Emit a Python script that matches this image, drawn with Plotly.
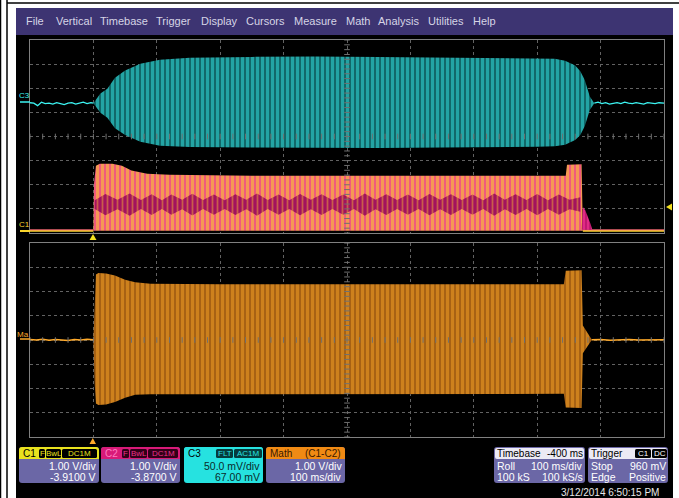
import plotly.graph_objects as go

W, H = 679, 498

# ---------------- acquisition settings ----------------
T_RANGE = [-0.1, 0.9]            # s, 100 ms/div, trigger at -400 ms from centre
C1_VDIV, C1_OFFSET = 1.00, -3.91
C2_VDIV, C2_OFFSET = 1.00, -3.87
C3_VDIV, C3_OFFSET = 0.050, 0.067
MATH_VDIV, MATH_OFFSET = 1.00, 0.0

# ---------------- C3 (AC coupled) ----------------
c3_pre_t = [-0.100, -0.094, -0.088, -0.082, -0.076, -0.070, -0.064, -0.058, -0.052,
            -0.046, -0.040, -0.034, -0.028, -0.022, -0.016, -0.010, -0.004, 0.000]
c3_pre_v = [0.003, 0.002, -0.003, 0.004, 0.001, 0.002, 0.000, 0.003, 0.001,
            -0.001, 0.002, 0.003, 0.000, 0.002, 0.004, 0.001, 0.003, 0.002]
c3_post_t = [0.790, 0.796, 0.802, 0.808, 0.814, 0.820, 0.826, 0.832, 0.838, 0.844,
             0.850, 0.856, 0.862, 0.868, 0.874, 0.880, 0.886, 0.892, 0.900]
c3_post_v = [0.002, 0.004, 0.001, 0.003, 0.000, 0.002, 0.003, 0.001, 0.004, 0.002,
             0.001, 0.003, 0.002, 0.000, 0.003, 0.002, 0.001, 0.003, 0.002]
c3_env_t = [0.000, 0.005, 0.011, 0.022, 0.034, 0.050, 0.074, 0.105, 0.152, 0.250,
            0.350, 0.450, 0.550, 0.650, 0.700, 0.728, 0.744, 0.760, 0.768, 0.775,
            0.783, 0.790]
c3_env_hi = [0.002, 0.010, 0.022, 0.032, 0.055, 0.070, 0.084, 0.092, 0.096, 0.098,
             0.099, 0.098, 0.097, 0.096, 0.095, 0.094, 0.090, 0.080, 0.068, 0.050,
             0.016, 0.002]
c3_env_lo = [0.002, -0.006, -0.018, -0.028, -0.050, -0.064, -0.078, -0.086, -0.089, -0.090,
             -0.091, -0.091, -0.090, -0.089, -0.088, -0.087, -0.084, -0.074, -0.064, -0.046,
             -0.012, 0.002]

# ---------------- C1 / C2 ----------------
c1_base_t = [-0.100, 0.000, 0.772, 0.900]
c1_base_v = [0.00, 0.00, 0.00, 0.00]
c1_env_t = [0.000, 0.001, 0.004, 0.010, 0.030, 0.045, 0.060, 0.085, 0.120, 0.250,
            0.400, 0.550, 0.700, 0.745, 0.747, 0.770, 0.772]
c1_env_hi = [0.00, 1.95, 2.70, 2.78, 2.78, 2.70, 2.50, 2.37, 2.32, 2.28,
             2.28, 2.28, 2.28, 2.28, 2.74, 2.76, 0.00]
c2_tail_t = [0.770, 0.772, 0.776, 0.780, 0.784, 0.787]
c2_tail_v = [0.00, 0.95, 0.80, 0.55, 0.25, 0.00]
c2_band_t = [0.002, 0.019, 0.038, 0.057, 0.075, 0.092, 0.108, 0.123, 0.140, 0.156,
             0.173, 0.190, 0.207, 0.224, 0.241, 0.258, 0.275, 0.292, 0.309, 0.326,
             0.343, 0.360, 0.377, 0.394, 0.411, 0.428, 0.445, 0.462, 0.479, 0.496,
             0.513, 0.530, 0.547, 0.564, 0.581, 0.598, 0.615, 0.632, 0.649, 0.666,
             0.683, 0.700, 0.717, 0.734, 0.751, 0.768]
c2_band_mid = 1.05
c2_band_hw = [0.18, 0.44, 0.20, 0.46, 0.19, 0.43, 0.18, 0.42, 0.20, 0.45,
              0.19, 0.42, 0.18, 0.43, 0.20, 0.46, 0.19, 0.42, 0.18, 0.44,
              0.20, 0.43, 0.19, 0.42, 0.18, 0.46, 0.20, 0.43, 0.19, 0.42,
              0.18, 0.44, 0.20, 0.43, 0.19, 0.42, 0.18, 0.46, 0.20, 0.43,
              0.19, 0.44, 0.18, 0.42, 0.20, 0.30]

# ---------------- Math (C1-C2) ----------------
m_pre_t = [-0.100, -0.090, -0.080, -0.070, -0.060, -0.050, -0.040, -0.030, -0.020, -0.010, 0.000]
m_pre_v = [0.02, 0.00, 0.03, -0.01, 0.02, 0.01, -0.02, 0.02, 0.00, 0.03, 0.01]
m_post_t = [0.786, 0.800, 0.815, 0.830, 0.845, 0.860, 0.875, 0.890, 0.900]
m_post_v = [0.01, 0.02, -0.01, 0.01, 0.02, 0.00, 0.01, 0.02, 0.01]
m_env_t = [0.000, 0.002, 0.004, 0.008, 0.020, 0.034, 0.050, 0.066, 0.090, 0.200,
           0.350, 0.500, 0.650, 0.742, 0.745, 0.770, 0.772, 0.776, 0.781, 0.786]
m_env_hi = [0.00, 1.80, 2.70, 2.76, 2.74, 2.66, 2.48, 2.38, 2.32, 2.30,
            2.30, 2.30, 2.30, 2.30, 2.86, 2.88, 0.60, 0.45, 0.25, 0.02]
m_env_lo = [0.00, -1.80, -2.62, -2.68, -2.66, -2.56, -2.38, -2.26, -2.24, -2.22,
            -2.22, -2.22, -2.22, -2.22, -2.78, -2.80, -0.55, -0.40, -0.20, 0.00]

# ---------------- readouts ----------------
menu_items = ["File", "Vertical", "Timebase", "Trigger", "Display", "Cursors",
              "Measure", "Math", "Analysis", "Utilities", "Help"]
c1_info = ["C1", ["F", "BwL", "DC1M"], "1.00 V/div", "-3.9100 V"]
c2_info = ["C2", ["F", "BwL", "DC1M"], "1.00 V/div", "-3.8700 V"]
c3_info = ["C3", ["FLT", "AC1M"], "50.0 mV/div", "67.00 mV"]
math_info = ["Math", "(C1-C2)", "1.00 V/div", "100 ms/div"]
tb_info = [["Timebase", "-400 ms"], ["Roll", "100 ms/div"], ["100 kS", "100 kS/s"]]
trig_info = [["Trigger", ["C1", "DC"]], ["Stop", "960 mV"], ["Edge", "Positive"]]
timestamp = "3/12/2014 6:50:15 PM"

# ======================================================
FONT = "Liberation Sans, Arial, sans-serif"
C_CYAN, C_YEL, C_PINK, C_MAG, C_ORG = "#3cf4f2", "#fad62c", "#f05a7c", "#a3125e", "#ffaa2a"
BOX = "#6b67a6"


def X(px):
    return px / W


def Y(py):
    return 1 - py / H


def P(x, y):
    return f"{X(x):.5f},{Y(y):.5f}"


def rrect(x0, y0, x1, y1, r, color, line=None):
    path = (f"M {P(x0 + r, y0)} L {P(x1 - r, y0)} Q {P(x1, y0)} {P(x1, y0 + r)} "
            f"L {P(x1, y1 - r)} Q {P(x1, y1)} {P(x1 - r, y1)} L {P(x0 + r, y1)} "
            f"Q {P(x0, y1)} {P(x0, y1 - r)} L {P(x0, y0 + r)} Q {P(x0, y0)} {P(x0 + r, y0)} Z")
    return dict(type="path", xref="paper", yref="paper", path=path, fillcolor=color,
                line=dict(width=0 if line is None else 1, color=line or color), layer="above")


def rect(x0, y0, x1, y1, color, layer="above"):
    return dict(type="rect", xref="paper", yref="paper", x0=X(x0), x1=X(x1), y0=Y(y1), y1=Y(y0),
                fillcolor=color, line=dict(width=0), layer=layer)


def seg(x0, y0, x1, y1, color, width=1, layer="above"):
    return dict(type="line", xref="paper", yref="paper", x0=X(x0), x1=X(x1), y0=Y(y0), y1=Y(y1),
                line=dict(color=color, width=width), layer=layer)


def tri(pts, color):
    path = "M " + " L ".join(P(x, y) for x, y in pts) + " Z"
    return dict(type="path", xref="paper", yref="paper", path=path, fillcolor=color,
                line=dict(width=0), layer="above")


annotations = []


def txt(x, y, s, color, size=10, anchor="left"):
    annotations.append(dict(x=X(x), y=Y(y), xref="paper", yref="paper", text=s, showarrow=False,
                            xanchor=anchor, yanchor="middle", font=dict(family=FONT, size=size, color=color),
                            borderpad=0))


def to_div(vals, vdiv, offset):
    return [(v + offset) / vdiv for v in vals]


fig = go.Figure()


def band(t, hi, lo, fg, bg, solidity=0.5, xa="x", ya="y", size=4):
    fig.add_trace(go.Scatter(
        x=list(t) + list(t)[::-1], y=list(hi) + list(lo)[::-1], xaxis=xa, yaxis=ya,
        mode="lines", line=dict(width=0, color=fg), fill="toself", fillcolor=bg,
        fillpattern=dict(shape="|", fgcolor=fg, bgcolor=bg, size=size, solidity=solidity),
        hoverinfo="skip", showlegend=False))


def wire(t, v, color, width=1, xa="x", ya="y"):
    fig.add_trace(go.Scatter(x=t, y=v, xaxis=xa, yaxis=ya, mode="lines",
                             line=dict(color=color, width=width), hoverinfo="skip", showlegend=False))


# ---- upper grid: C3 ----
wire(c3_pre_t, to_div(c3_pre_v, C3_VDIV, C3_OFFSET), C_CYAN, 1.3)
wire(c3_post_t, to_div(c3_post_v, C3_VDIV, C3_OFFSET), C_CYAN, 1.3)
band(c3_env_t, to_div(c3_env_hi, C3_VDIV, C3_OFFSET), to_div(c3_env_lo, C3_VDIV, C3_OFFSET),
     C_CYAN, "#0b5456", 0.7, size=5)

# ---- upper grid: C1 / C2 ----
wire(c1_base_t[:2], to_div(c1_base_v[:2], C1_VDIV, C1_OFFSET), C_YEL, 2)
wire(c1_base_t[2:], to_div(c1_base_v[2:], C1_VDIV, C1_OFFSET), C_YEL, 2)
wire(c1_base_t[:2], to_div(c1_base_v[:2], C2_VDIV, C2_OFFSET), C_PINK, 1)
wire(c1_base_t[2:], to_div(c1_base_v[2:], C2_VDIV, C2_OFFSET), C_PINK, 1)
band(c1_env_t, to_div(c1_env_hi, C1_VDIV, C1_OFFSET), to_div([0] * len(c1_env_t), C1_VDIV, C1_OFFSET),
     C_YEL, C_PINK, 0.6, size=5)
band(c2_tail_t, to_div(c2_tail_v, C2_VDIV, C2_OFFSET), to_div([0] * len(c2_tail_t), C2_VDIV, C2_OFFSET),
     "#ff3c9c", "#c01870")
band(c2_band_t, to_div([c2_band_mid + h for h in c2_band_hw], C2_VDIV, C2_OFFSET),
     to_div([c2_band_mid - h for h in c2_band_hw], C2_VDIV, C2_OFFSET),
     "#f2a838", C_MAG, 0.35, size=5)

# ---- lower grid: Math ----
wire(m_pre_t, to_div(m_pre_v, MATH_VDIV, MATH_OFFSET), C_ORG, 1.3, "x2", "y2")
wire(m_post_t, to_div(m_post_v, MATH_VDIV, MATH_OFFSET), C_ORG, 1.3, "x2", "y2")
band(m_env_t, to_div(m_env_hi, MATH_VDIV, MATH_OFFSET), to_div(m_env_lo, MATH_VDIV, MATH_OFFSET),
     C_ORG, "#9a5810", 0.7, "x2", "y2", size=5)

# ---- centre-line minor ticks ----
for xa, ya in (("x", "y"), ("x2", "y2")):
    tx = [T_RANGE[0] + i * 0.02 for i in range(51)]
    fig.add_trace(go.Scatter(x=tx, y=[0] * len(tx), xaxis=xa, yaxis=ya, mode="markers",
                             marker=dict(symbol="line-ns", size=4, line=dict(width=1, color="#707070")),
                             hoverinfo="skip", showlegend=False))
    ty = [-4 + i * 0.2 for i in range(41)]
    fig.add_trace(go.Scatter(x=[0.4] * len(ty), y=ty, xaxis=xa, yaxis=ya, mode="markers",
                             marker=dict(symbol="line-ew", size=4, line=dict(width=1, color="#707070")),
                             hoverinfo="skip", showlegend=False))

axis_common = dict(showgrid=True, gridcolor="#626262", griddash="dot", gridwidth=1,
                   showline=True, mirror=True, linecolor="#808080", linewidth=1,
                   showticklabels=False, ticks="", zeroline=False, fixedrange=True)
GX = [X(30), X(664)]
fig.update_layout(
    width=W, height=H, margin=dict(l=0, r=0, t=0, b=0),
    paper_bgcolor="white", plot_bgcolor="black", showlegend=False,
    xaxis=dict(domain=GX, range=T_RANGE, dtick=0.1, tick0=0, anchor="y", **axis_common),
    yaxis=dict(domain=[Y(233), Y(40)], range=[-4, 4], dtick=1, tick0=0, anchor="x", **axis_common),
    xaxis2=dict(domain=GX, range=T_RANGE, dtick=0.1, tick0=0, anchor="y2", **axis_common),
    yaxis2=dict(domain=[Y(437), Y(243)], range=[-4, 4], dtick=1, tick0=0, anchor="x2", **axis_common),
)

shapes = []
# outer page frame and scope screen
shapes.append(dict(type="rect", xref="paper", yref="paper", x0=X(16), x1=X(673), y0=0, y1=Y(8),
                   fillcolor="black", line=dict(width=0), layer="below"))
shapes.append(seg(0.5, 0, 0.5, H, "black", 1.5, "below"))
shapes.append(seg(7, 0, 7, H, "black", 1.5, "below"))
shapes.append(seg(7, 3, W, 3, "black", 1.5, "below"))
# menu bar
shapes.append(rect(16, 8, 673, 35, "#3d3472", "below"))
menu_x = [25, 55, 99, 155, 200, 245, 293, 345, 377, 427, 472]
for s, mx in zip(menu_items, menu_x):
    txt(mx, 21, s, "#d6d4e6", 11)

# channel ground markers and labels
shapes.append(seg(20, 102, 30, 102, C_CYAN, 1.5))
txt(18, 96, "C3", C_CYAN, 8)
shapes.append(seg(20, 231, 30, 231, C_YEL, 2))
txt(18, 224, "C1", C_YEL, 8)
shapes.append(seg(20, 339, 30, 339, C_ORG, 1.5))
txt(16, 334, "Ma", C_ORG, 8)
# trigger markers
shapes.append(tri([(89.5, 240), (96.5, 240), (93, 234)], "#f2e020"))
shapes.append(tri([(89.5, 444), (96, 444), (92.8, 438)], C_ORG))
shapes.append(tri([(666, 207), (672, 203.5), (672, 210.5)], "#f2e020"))


# ---- channel readout boxes ----
def chan_box(x0, x1, info, head_col, head_txt, badge_bg, badge_fg, badges_x, body=BOX, body_txt="white"):
    shapes.append(rrect(x0, 447, x1, 483, 3, body))
    shapes.append(rrect(x0, 447, x1, 459, 3, head_col))
    shapes.append(rect(x0, 453, x1, 459, head_col))
    txt(x0 + 3, 453, info[0], head_txt, 10)
    if isinstance(info[1], list):
        for b, (bx0, bx1) in zip(info[1], badges_x):
            shapes.append(rrect(bx0, 449, bx1, 458, 1.5, badge_bg))
            txt((bx0 + bx1) / 2, 453.5, b, badge_fg, 8, "center")
    else:
        txt(x1 - 3, 453, info[1], head_txt, 10, "right")
    txt(x1 - 2, 466, info[2], body_txt, 10.5, "right")
    txt(x1 - 2, 477, info[3], body_txt, 10.5, "right")


chan_box(19, 99, c1_info, "#e9e21e", "black", "black", "#e9e21e", [(39, 45), (46, 61), (62, 97)])
chan_box(101, 180, c2_info, "#d81a78", "#ff7ac0", "#300018", "#e83088", [(122, 129), (130, 147), (148, 178)])
chan_box(184, 263, c3_info, "#26e2e0", "black", "#063c3c", "#26e2e0", [(216, 233), (234, 262)],
         body="#26e2e0", body_txt="#0a2a2a")
chan_box(266, 345, math_info, "#f08a14", "#3a1800", None, None, [])

# timebase / trigger boxes
for bx0, bx1 in ((494, 585), (588, 668)):
    shapes.append(rrect(bx0, 447, bx1, 483, 3, BOX))
    shapes.append(rrect(bx0 + 1, 448, bx1 - 1, 459, 2, "#eceaf4"))
txt(496, 453.5, tb_info[0][0], "black", 10)
txt(584, 453.5, tb_info[0][1], "black", 10, "right")
txt(496, 466, tb_info[1][0], "white", 10.5)
txt(584, 466, tb_info[1][1], "white", 10.5, "right")
txt(496, 477, tb_info[2][0], "white", 10.5)
txt(584, 477, tb_info[2][1], "white", 10.5, "right")
txt(590, 453.5, trig_info[0][0], "black", 10)
for b, (bx0, bx1) in zip(trig_info[0][1], [(635, 651), (652, 667)]):
    shapes.append(rrect(bx0, 449, bx1, 458, 1.5, "black"))
    txt((bx0 + bx1) / 2, 453.5, b, "white", 8, "center")
txt(590, 466, trig_info[1][0], "white", 10.5)
txt(667, 466, trig_info[1][1], "white", 10.5, "right")
txt(590, 477, trig_info[2][0], "white", 10.5)
txt(667, 477, trig_info[2][1], "white", 10.5, "right")
txt(660, 492, timestamp, "#e8e8e8", 10, "right")

fig.update_layout(shapes=shapes, annotations=annotations)
fig.write_html("out.html")
